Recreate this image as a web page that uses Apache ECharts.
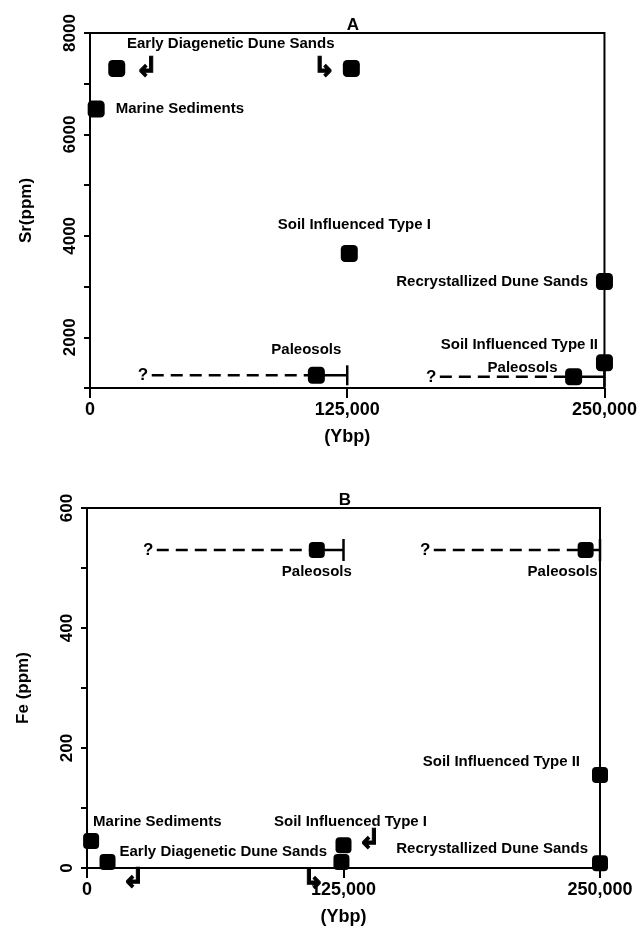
<!DOCTYPE html>
<html>
<head>
<meta charset="utf-8">
<script src="https://cdn.jsdelivr.net/npm/echarts@6/dist/echarts.min.js"></script>
<style>html,body{margin:0;padding:0;background:#fff}#c{width:640px;height:932px}</style>
</head>
<body>
<div id="c"></div>
<script>
// ---------- Panel A : Sr (ppm) vs age (Ybp) ----------
const srSamples = ['Marine Sediments', 'Early Diagenetic Dune Sands', 'Early Diagenetic Dune Sands',
  'Soil Influenced Type I', 'Recrystallized Dune Sands', 'Soil Influenced Type II', 'Paleosols', 'Paleosols'];
const srAge = [3000, 13000, 127000, 126000, 250000, 250000, 110000, 235000];
const srPpm = [6500, 7300, 7300, 3650, 3100, 1500, 1250, 1220];
const srPaleoIdx = [6, 7];
const srPaleoFrom = [30000, 170000];   // start of the uncertain (dashed) range
const srPaleoTo = [125000, 250000];    // end of the range
const srTickLabels = [2000, 4000, 6000, 8000];

// ---------- Panel B : Fe (ppm) vs age (Ybp) ----------
const feSamples = ['Marine Sediments', 'Early Diagenetic Dune Sands', 'Early Diagenetic Dune Sands',
  'Soil Influenced Type I', 'Recrystallized Dune Sands', 'Soil Influenced Type II', 'Paleosols', 'Paleosols'];
const feAge = [2000, 10000, 124000, 125000, 250000, 250000, 112000, 243000];
const fePpm = [45, 10, 10, 38, 8, 155, 530, 530];
const fePaleoIdx = [6, 7];
const fePaleoFrom = [34000, 169000];
const fePaleoTo = [125000, 250000];
const feTickLabels = [0, 200, 400, 600];

const ageTicks = [0, 125000, 250000];

// ---------- styling ----------
const FONT = '"Liberation Sans", Arial, Helvetica, sans-serif';
const BLACK = '#000';
const CLEAR = 'rgba(0,0,0,0)';

// label placement per sample (style only)
const srLabelCfg = [
  {position: 'right', distance: 11},
  {position: 'inside', offset: [114, -25]},
  null,
  {position: 'inside', offset: [5, -29]},
  {position: 'left', distance: 8},
  {position: 'left', distance: -2, offset: [0, -18]},
  {position: 'inside', offset: [-10, -25]},
  {position: 'inside', offset: [-51, -9]}
];
const feLabelCfg = [
  {position: 'inside', align: 'left', offset: [2, -19]},
  {position: 'inside', align: 'left', offset: [12, -10]},
  null,
  {position: 'inside', offset: [7, -23]},
  {position: 'inside', align: 'right', offset: [-12, -14]},
  {position: 'inside', align: 'right', offset: [-20, -13]},
  {position: 'inside', offset: [0, 22]},
  {position: 'inside', offset: [-23, 22]}
];
// curved pointer arrows next to some samples (style only)
const srArrows = [
  {idx: 1, glyph: '↲', offset: [30, 0]},
  {idx: 2, glyph: '↳', offset: [-27, 0]}
];
const feArrows = [
  {idx: 1, glyph: '↲', offset: [26, 18]},
  {idx: 2, glyph: '↳', offset: [-28, 19]},
  {idx: 3, glyph: '↲', offset: [26, -4]}
];

function textStyle(size) {
  return {fontFamily: FONT, fontWeight: 'bold', fontSize: size, color: BLACK, opacity: 1};
}

function markerSeries(gi, ages, vals, names, cfg, size) {
  return {
    type: 'scatter', xAxisIndex: gi, yAxisIndex: gi, clip: false, z: 5, silent: true,
    symbol: 'roundRect', symbolSize: size,
    itemStyle: {color: BLACK, opacity: 1},
    data: ages.map((a, i) => ({
      value: [a, vals[i]],
      label: cfg[i] ? Object.assign({show: true, formatter: names[i]}, textStyle(15), cfg[i]) : {show: false}
    }))
  };
}

function arrowSeries(gi, ages, vals, arrows) {
  return {
    type: 'scatter', xAxisIndex: gi, yAxisIndex: gi, clip: false, z: 6, silent: true,
    symbol: 'circle', symbolSize: 1, itemStyle: {color: CLEAR, opacity: 1},
    data: arrows.map(a => ({
      value: [ages[a.idx], vals[a.idx]],
      label: {show: true, position: 'inside', formatter: a.glyph, offset: a.offset,
        fontFamily: '"DejaVu Sans", sans-serif', fontWeight: 'bold', fontSize: 27, color: BLACK,
        opacity: 1, textBorderColor: BLACK, textBorderWidth: 1}
    }))
  };
}

function paleoSeries(gi, ages, vals, idxs, from, to, capH) {
  const out = [];
  idxs.forEach((idx, k) => {
    const v = vals[idx];
    out.push({
      type: 'line', xAxisIndex: gi, yAxisIndex: gi, symbol: 'none', silent: true, z: 3,
      lineStyle: {color: BLACK, width: 2.5, type: [12, 7], opacity: 1},
      data: [[from[k], v], [ages[idx], v]]
    });
    out.push({
      type: 'line', xAxisIndex: gi, yAxisIndex: gi, symbol: 'none', silent: true, z: 3,
      lineStyle: {color: BLACK, width: 2.5, opacity: 1},
      data: [[ages[idx], v], [to[k], v]]
    });
  });
  // end caps of the ranges
  out.push({
    type: 'scatter', xAxisIndex: gi, yAxisIndex: gi, clip: false, silent: true, z: 3,
    symbol: 'rect', symbolSize: [2.5, capH], itemStyle: {color: BLACK, opacity: 1},
    data: idxs.map((idx, k) => [to[k], vals[idx]])
  });
  // question marks at the open end
  out.push({
    type: 'scatter', xAxisIndex: gi, yAxisIndex: gi, clip: false, silent: true, z: 4,
    symbol: 'circle', symbolSize: 1, itemStyle: {color: CLEAR, opacity: 1},
    data: idxs.map((idx, k) => ({
      value: [from[k], vals[idx]],
      label: Object.assign({show: true, position: 'left', distance: 3, formatter: '?'}, textStyle(17))
    }))
  });
  return out;
}

function xAxisCfg(gi) {
  return {
    type: 'value', gridIndex: gi, min: 0, max: 250000, interval: 125000,
    axisLine: {show: true, onZero: false, lineStyle: {color: BLACK, width: 2}},
    axisTick: {show: true, length: 10, lineStyle: {color: BLACK, width: 2}},
    axisLabel: Object.assign({
      margin: 13,
      formatter: v => ageTicks.includes(v) ? v.toLocaleString('en-US') : ''
    }, textStyle(18)),
    splitLine: {show: false},
    name: '(Ybp)', nameLocation: 'middle', nameGap: 40,
    nameTextStyle: textStyle(18)
  };
}

function yAxisCfg(gi, min, max, interval, labels, name) {
  return {
    type: 'value', gridIndex: gi, min: min, max: max, interval: interval,
    axisLine: {show: true, lineStyle: {color: BLACK, width: 2}},
    axisTick: {show: true, length: 6, lineStyle: {color: BLACK, width: 2}},
    axisLabel: Object.assign({
      rotate: 90, margin: 11,
      formatter: v => labels.includes(v) ? String(v) : ''
    }, textStyle(17)),
    splitLine: {show: false},
    name: name, nameLocation: 'middle', nameGap: 55, nameRotate: 90,
    nameTextStyle: textStyle(17)
  };
}

const chart = echarts.init(document.getElementById('c'));
chart.setOption({
  animation: false,
  backgroundColor: '#fff',
  grid: [
    {left: 90, top: 33, width: 515, height: 355, show: true, borderColor: BLACK, borderWidth: 2, backgroundColor: 'transparent'},
    {left: 87, top: 508, width: 513, height: 360, show: true, borderColor: BLACK, borderWidth: 2, backgroundColor: 'transparent'}
  ],
  graphic: [
    {type: 'text', x: 353, y: 34, style: {text: 'A', textAlign: 'center', textVerticalAlign: 'bottom', font: 'bold 17px "Liberation Sans", Arial, sans-serif', fill: BLACK}},
    {type: 'text', x: 345, y: 509, style: {text: 'B', textAlign: 'center', textVerticalAlign: 'bottom', font: 'bold 17px "Liberation Sans", Arial, sans-serif', fill: BLACK}}
  ],
  xAxis: [xAxisCfg(0), xAxisCfg(1)],
  yAxis: [
    yAxisCfg(0, 1000, 8000, 1000, srTickLabels, 'Sr(ppm)'),
    yAxisCfg(1, 0, 600, 100, feTickLabels, 'Fe (ppm)')
  ],
  series: [
    ...paleoSeries(0, srAge, srPpm, srPaleoIdx, srPaleoFrom, srPaleoTo, 20),
    markerSeries(0, srAge, srPpm, srSamples, srLabelCfg, 17),
    arrowSeries(0, srAge, srPpm, srArrows),
    ...paleoSeries(1, feAge, fePpm, fePaleoIdx, fePaleoFrom, fePaleoTo, 22),
    markerSeries(1, feAge, fePpm, feSamples, feLabelCfg, 16),
    arrowSeries(1, feAge, fePpm, feArrows)
  ]
});
</script>
</body>
</html>
